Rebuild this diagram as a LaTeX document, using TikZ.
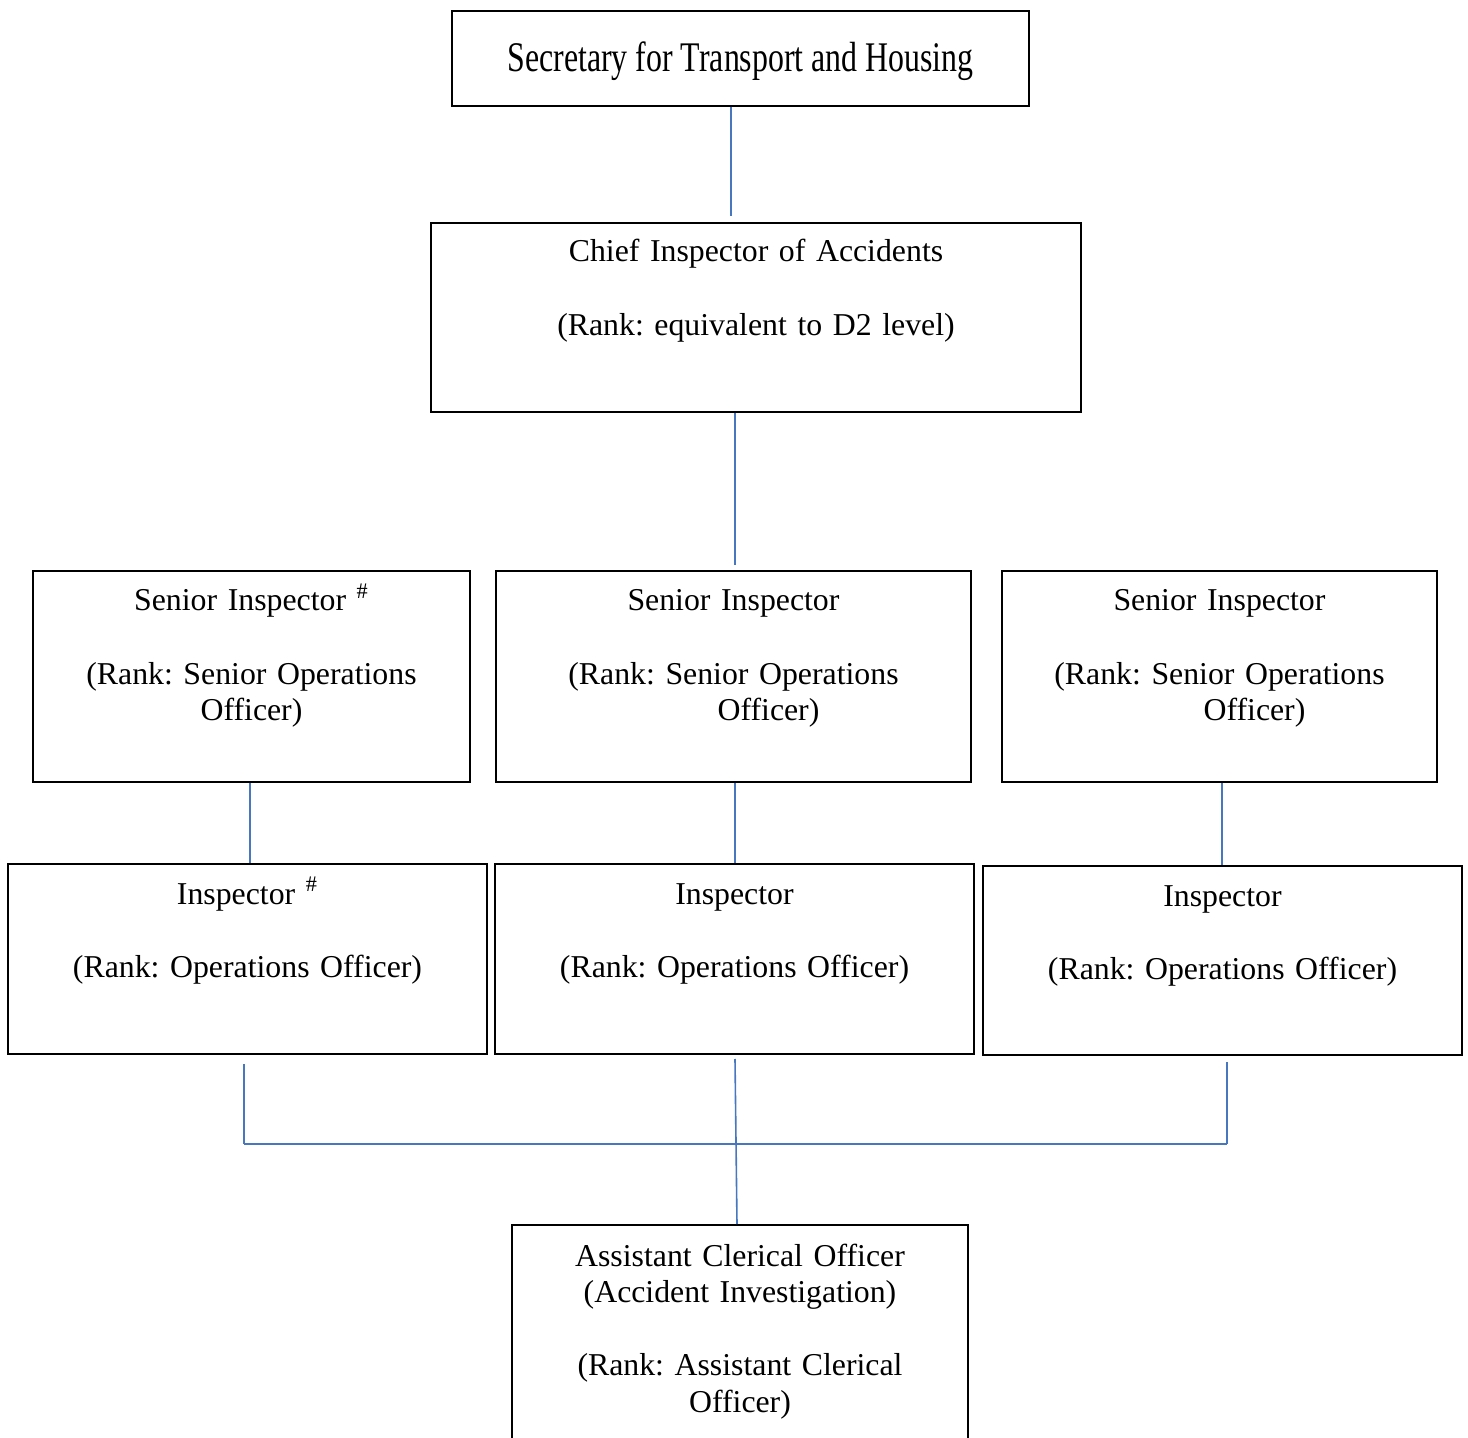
\documentclass[tikz,border=0pt]{standalone}
\usepackage{fontspec}
\setmainfont{Liberation Serif}
\usetikzlibrary{positioning,calc}
\definecolor{linkblue}{HTML}{4677BF}
\frenchspacing

\begin{document}
\begin{tikzpicture}[x=0.5pt, y=-0.5pt,
  box/.style={draw, line width=1pt, inner sep=0pt},
  txt/.style={anchor=base, inner sep=0pt, align=center, text width=#1,
    font=\fontsize{15.9pt}{18.3pt}\selectfont},
  link/.style={draw=linkblue, line width=1.4pt},
  thinlink/.style={draw=linkblue, line width=0.8pt}]
  \clip (0,0) rectangle (1468,1438);

  \node[box, minimum width=288.5pt, minimum height=47.5pt] (sec) at (740.5,58.5) {};
  \node[box, minimum width=325pt, minimum height=94.5pt] (chief) at (756,317.5) {};
  \node[box, minimum width=218.5pt, minimum height=105.5pt] (si1) at (251.5,676.5) {};
  \node[box, minimum width=237.5pt, minimum height=105.5pt] (si2) at (733.5,676.5) {};
  \node[box, minimum width=217.5pt, minimum height=105.5pt] (si3) at (1219.5,676.5) {};
  \node[box, minimum width=239.5pt, minimum height=95pt] (in1) at (247.5,959) {};
  \node[box, minimum width=239.5pt, minimum height=95pt] (in2) at (734.5,959) {};
  \node[box, minimum width=239.5pt, minimum height=94.5pt] (in3) at (1222.5,960.5) {};
  \node[box, minimum width=228pt, minimum height=117.5pt] (aco) at (740,1342.5) {};

  \node[txt=280pt] (sectxt) at (740.5,72)
    {\scalebox{0.755}[1]{\fontsize{21.1pt}{24pt}\selectfont Secretary for Transport and Housing}};
  \node[txt=310pt] (chieftxt) at (756,262)
    {Chief Inspector of Accidents\\[18.3pt] (Rank: equivalent to D2 level)};
  \node[txt=210pt] (si1txt) at (251.5,611)
    {Senior Inspector \textsuperscript{\#}\\[18.3pt] (Rank: Senior Operations\\ Officer)};
  \node[txt=225pt] (si2txt) at (733.5,611)
    {Senior Inspector\\[18.3pt] (Rank: Senior Operations\\ \hspace*{35pt}Officer)};
  \node[txt=210pt] (si3txt) at (1219.5,611)
    {Senior Inspector\\[18.3pt] (Rank: Senior Operations\\ \hspace*{35pt}Officer)};
  \node[txt=230pt] (in1txt) at (247.5,904)
    {Inspector \textsuperscript{\#}\\[18.3pt] (Rank: Operations Officer)};
  \node[txt=230pt] (in2txt) at (734.5,904)
    {Inspector\\[18.3pt] (Rank: Operations Officer)};
  \node[txt=230pt] (in3txt) at (1222.5,906)
    {Inspector\\[18.3pt] (Rank: Operations Officer)};
  \node[txt=220pt] (acotxt) at (740,1266)
    {Assistant Clerical Officer\\ (Accident Investigation)\\[18.3pt] (Rank: Assistant Clerical\\ Officer)};

  \coordinate (busy) at (740,1144);
  \coordinate (busl) at ([xshift=-1.75pt]in1.south |- busy);
  \coordinate (busr) at ([xshift=2.25pt]in3.south |- busy);

  \draw[link] ([xshift=-4.75pt]sec.south) -- ([xshift=-12.5pt,yshift=3pt]chief.north);
  \draw[link] ([xshift=-10.5pt]chief.south) -- ([xshift=0.75pt,yshift=2.5pt]si2.north);
  \draw[thinlink] ([xshift=-0.75pt]si1.south) -- ([xshift=1.25pt]in1.north);
  \draw[link] ([xshift=0.75pt]si2.south) -- ([xshift=0.25pt]in2.north);
  \draw[link] ([xshift=1.25pt]si3.south) -- ([xshift=-0.25pt]in3.north);
  \draw[link] ([xshift=-1.75pt,yshift=-4.5pt]in1.south) -- (busl);
  \draw[thinlink] (busl) -- (busr);
  \draw[link] ([xshift=2.25pt,yshift=-3pt]in3.south) -- (busr);
  \draw[thinlink] ([xshift=0.25pt,yshift=-2pt]in2.south) -- ([xshift=-1.5pt]aco.north);
\end{tikzpicture}
\end{document}
